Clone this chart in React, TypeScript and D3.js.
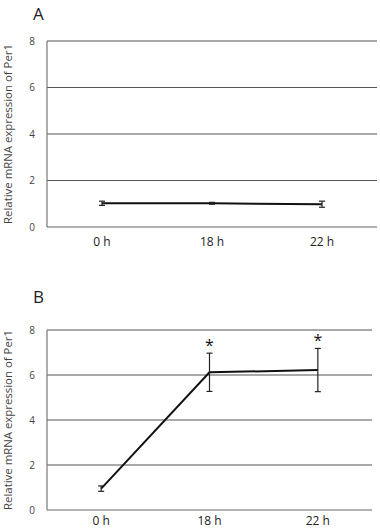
import React from "react";
import * as d3 from "d3";

const categories = ["0 h", "18 h", "22 h"];
const yTicks = [0, 2, 4, 6, 8];

const meansA = [1.02, 1.02, 0.98];
const errorsA = [0.09, 0.04, 0.13];
const starsA = [false, false, false];

const meansB = [0.95, 6.12, 6.22];
const errorsB = [0.12, 0.85, 0.96];
const starsB = [false, true, true];

const FONT = "'Open Sans', 'Noto Sans', sans-serif";

type PanelProps = {
  label: string;
  top: number;
  bottom: number;
  right: number;
  means: number[];
  errors: number[];
  stars: boolean[];
  labelY: number;
  xLabelY: number;
};

function Panel({ label, top, bottom, right, means, errors, stars, labelY, xLabelY }: PanelProps) {
  const left = 47;
  const x = d3.scaleBand<string>().domain(categories).range([left, right]).padding(0);
  const y = d3.scaleLinear().domain([0, 8]).range([bottom, top]);
  const cx = (i: number) => (x(categories[i]) as number) + x.bandwidth() / 2;
  const line = d3
    .line<number>()
    .x((_, i) => cx(i))
    .y((d) => y(d));
  const titleCenter = (top + bottom) / 2;
  return (
    <g>
      <text x={33} y={labelY} fontFamily={FONT} fontSize={17} fill="#222">
        {label}
      </text>
      {yTicks.map((t) => (
        <g key={t}>
          {t > 0 && (
            <line x1={left} x2={right} y1={y(t)} y2={y(t)} stroke="#555" strokeWidth={1.2} />
          )}
          <text
            x={35}
            y={y(t)}
            dy="0.35em"
            textAnchor="end"
            fontFamily={FONT}
            fontSize={10}
            fill="#444"
          >
            {t}
          </text>
        </g>
      ))}
      <line x1={left} x2={left} y1={top} y2={bottom} stroke="#777" strokeWidth={1.2} />
      <line x1={left} x2={right} y1={bottom} y2={bottom} stroke="#666" strokeWidth={1.2} />
      <text
        transform={`translate(12,${titleCenter}) rotate(-90)`}
        textAnchor="middle"
        fontFamily={FONT}
        fontSize={10.5}
        fill="#444"
        textLength={180}
        lengthAdjust="spacingAndGlyphs"
      >
        Relative mRNA expression of Per1
      </text>
      {categories.map((c, i) => (
        <text
          key={c}
          x={cx(i)}
          y={xLabelY}
          textAnchor="middle"
          fontFamily={FONT}
          fontSize={12}
          fill="#222"
        >
          {c}
        </text>
      ))}
      <path d={line(means) || ""} fill="none" stroke="#111" strokeWidth={2} />
      {means.map((m, i) => {
        const hi = y(m + errors[i]);
        const lo = y(m - errors[i]);
        const px = cx(i);
        return (
          <g key={i} stroke="#222" strokeWidth={1.2}>
            <line x1={px} x2={px} y1={hi} y2={lo} />
            <line x1={px - 3} x2={px + 3} y1={hi} y2={hi} />
            <line x1={px - 3} x2={px + 3} y1={lo} y2={lo} />
          </g>
        );
      })}
      {means.map((m, i) =>
        stars[i] ? (
          <text
            key={"s" + i}
            x={cx(i)}
            y={y(m + errors[i]) - 2}
            textAnchor="middle"
            fontFamily={FONT}
            fontSize={16}
            fill="#111"
          >
            *
          </text>
        ) : null
      )}
    </g>
  );
}

export default function App() {
  return (
    <svg
      width={380}
      height={529}
      style={{ position: "absolute", left: 0, top: 0, background: "#fff" }}
    >
      <rect width={380} height={529} fill="#fff" />
      <Panel
        label="A"
        top={41}
        bottom={227}
        right={377}
        means={meansA}
        errors={errorsA}
        stars={starsA}
        labelY={20}
        xLabelY={246}
      />
      <Panel
        label="B"
        top={330}
        bottom={510}
        right={372}
        means={meansB}
        errors={errorsB}
        stars={starsB}
        labelY={303}
        xLabelY={525}
      />
    </svg>
  );
}
